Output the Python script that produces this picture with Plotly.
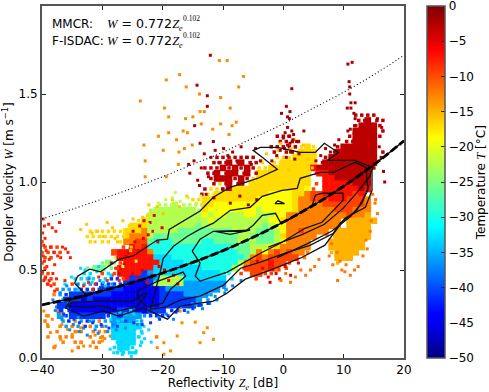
import plotly.graph_objects as go

# Temperature (deg C) of each letter used in the cloud map; capital letters mark thinly filled cells
temp_codes = dict(a=-3, b=-7, c=-9.5, d=-12.5, n=-15, e=-17, f=-19, g=-22.5, m=-26, h=-30, i=-33, j=-36, k=-41, l=-45)

# Cloud: one string per W value (top to bottom), 1 dB per character from -40 dB
map_top_w = 1.38
map_step_w = 0.03
map_rows = [
    "..... ..... ..... ..... ..... ..... ..... ..... ..... ..... ..AAA A....",
    "..... ..... ..... ..... ..... ..... ..... ..... ..... ..... ..AAa AA...",
    "..... ..... ..... ..... ..... ..... ..... ..... ..... ..... ..Aaa aA...",
    "..... ..... ..... ..... ..... ..... ..... ..... ..... ..... ..aaa aA...",
    "..... ..... ..... ..... ..... ..... ..... ....A AA... ..... .Aaaa aA...",
    "..... ..... ..... ..... ..... ..... ..... ....A AAA.. ..... AAaaa a....",
    "..... ..... ..... ..... ..... ..... ..... ...AA AAAEe E...A aaaaa a....",
    "..... ..... ..... ..... ..... ..... ..... ...A. AAEee e..Aa aaaaa aA...",
    "..... ..... ..... ..... ..... ....A AAAAA A...E EEeee e.Aaa aaaaa a....",
    "..... ..... ..... ..... ..... ...AA AaAaA AE.EE eeeee eAaaa aaaaa a....",
    "..... ..... ..... ..... ..... ..AAA aAaAa AEEee eeeee baaaa aaaaa A....",
    "..... ..... ..... ..... ..... ..AAa AaaAa Aeeee eeeee Bbbaa aaaaa .....",
    "..... ..... ..... ..... ..... ...Aa aaAaA Eeeee eeeee ..bba aaaaa .....",
    "..... ..... ..... ..... ..... ...AE AaAaE eeeee eeeee C.bbb bbaaa .....",
    "..... ..... ..... ..... ..... ..AEE Aaeee eeeee eeeef C.bbb bbbab .....",
    "..... ..... ..... ..... ..... .AEEe eeeee eeeff ffeed ccbbb bbcb. .....",
    "..... ..... ..... ..... ..... EEeee eeeee effff ffedd cccbb bcccd .....",
    "..... ..... ..... ....G GGgGG GEeef fffff fffff ffedd ddccc ccccd .....",
    "..... ..... ..... ...Gg ggggg gGeff fffff fgfff ffedd ddddc ccddd .....",
    "..... ..... ..... ..Egg ggggg ggfgf fgggf fgggf fdddd ddddd dcddn .....",
    "..... ..... ..... .Eegg ggggg gggfg ggggg gggff edddd ddddd .nnnn n....",
    "..... ..... ....E eeegg ggggg gmggg ggggg ggmgf fdddd ddddd .nnnn .....",
    "..... ...EE EEEEe eedgg gggmm mmmmm mmggg gmmmg fddcd ddd.n nnnnn .....",
    "..... ..EEE EEEEe dddgm mmmmm mmmmm mmmgg mmmmg edddd d..Nn nnnnn .....",
    "C.... ...E. EE.Ed dccmh hhmmm mmhhm mmmgm gmmmg fdddd ...nn nnnn. .....",
    "CCC.. ..... ...C. bcbhh hhhhh hhhhh hhmmm gggfe ddddd ...nn nnnn. .....",
    "CCCC. ..... ..cbb bbbdh hhhhh hhhhh hhhmm gdfdc dcddD ...Nn nnn.. .....",
    "CC... ..... ..Cbb bbbbi iihhh hhhhh hhhhm dcdcc cccD. ....n nn... .....",
    "C.... ..... MmMCb bbbbb iiiih hhhhh hhhgd cccbc cC... ....N ..... .....",
    "C.... ..MMm mMCbb bbbbi iiiii iihhh hhgCc cccbc C.... ..... ..... .....",
    "CC... ..II. CICbb bbkji iiiii iiiii hH.C. ccCC. ..... ..... ..... .....",
    "CC... IIII. IKKCb kkkkj ggggi iiiii iI... C.... ..... ..... ..... .....",
    ".CC.. CIIJK KKKKk lllkg ggggj jjjjj j.... ..... ..... ..... ..... .....",
    "..CJJ JKKKK kkkkl lllll kjjjj jjjjj J.... ..... ..... ..... ..... .....",
    "..DJK kkkkk kklll lllll kkkkj jjjJ. ..... ..... ..... ..... ..... .....",
    "...Jk kklkl lllll lllll kkkkk kjJ.. ..... ..... ..... ..... ..... .....",
    "...kk lllll lllll lllll kkkkk kK... ..... ..... ..... ..... ..... .....",
    "..DkK lllll lllkk kllkk kKK.. ..... ..... ..... ..... ..... ..... .....",
    ".D.jK kkkkk kKjkj jjJKK K.... ..... ..... ..... ..... ..... ..... .....",
    "D..JJ DJKJD JJjjj jJ... ..... ..... ..... ..... ..... ..... ..... .....",
    ".D.DJ DJDDJ D.jii ii... ..... ..... ..... ..... ..... ..... ..... .....",
    "..D.. DD.DD D.iii iI... ..... ..... ..... ..... ..... ..... ..... .....",
    ".D.DD D..D. D.iii iI..D ..... ..... ..... ..... ..... ..... ..... .....",
    "...D. DD.DD ..Iii iI... ..... ..... ..... ..... ..... ..... ..... .....",
    "..D.. .D..D ..Iii I.... ..... ..... ..... ..... ..... ..... ..... .....",
    "..... ..... ..III I.... ..... ..... ..... ..... ..... ..... ..... .....",
]

# Sparse points by temperature group
orange_z = [-23.7,-19.4,-17.2,-16.1,-13.9,-10.6,-9.3,-19.7,-19,-16.2,-15,-13.8,-13.1,-8.8,-10.4,-7.4,-6.6,-13.6,-16.6,-15.9,
            -20.7,-19,-17.7,-23.1,-19.9,-22.9,-22.9,-19.4,-17.4,-17.3,-15.1,-16.4,-11.7,-8.5,-9,-10.4,-7.8,
            -39.7,-39.1,-38.6,-38.3,-37.8,-36.9,-36.7,-35.8,-35,-33.6,-33.1,-32,-30.3,-30,-28.7,-35,-39.3,-36.7,
            -33.6,-20.9,-19.8,-18.7,-17.6,-19.8,-13.2,-14.6,-16.8,-17.1,-13.8,-11.6,-12.6,-29.6,-31.2,-34.2]
orange_w = [1.46,1.58,1.61,1.54,1.50,1.69,1.69,1.42,1.37,1.36,1.37,1.40,1.40,1.42,1.48,1.54,1.60,1.33,1.29,1.28,
            1.26,1.28,1.24,1.21,1.18,1.12,1.03,1.03,1.10,1.17,1.21,1.19,1.30,1.32,1.27,1.33,1.34,
            .267,.19,.144,.22,.068,.106,.19,.163,.134,.087,.068,.068,.116,.097,.125,.04,.24,.25,
            .172,.059,.087,.04,.125,.021,.144,.204,.2,.267,.087,.106,.172,.11,.13,.15]

red_orange_z = [-39.8,-39.6,-39.9,-39.5,-39.7,-39.3,-39.8,-39.6,-39.2,-39.9,-39.4,-39.7,-38.9,-38.3,-37.7,-37.1,-36.6,-36.1,-35.7,
                -38.6,-38,-37.4,-38.8,-37.9,-36.9,-35.3,-38.2,-38.8,-37.6,-39.1,-38.5,-37.9,-36.2,-33.1,-32.3,-31.2,-30.6,-29.2,
                -28.4,-27.8,-27.2,-26.5,-30,-31.6]
red_orange_w = [.79,.75,.71,.68,.64,.61,.58,.55,.52,.49,.46,.44,.76,.74,.72,.77,.63,.62,.6,
                .63,.6,.58,.56,.53,.57,.57,.48,.44,.45,.42,.41,.38,.44,.41,.43,.42,.46,.44,
                .47,.51,.44,.52,.38,.39]

red_z = [-28.5,-27.6,-26.9,-26.1,-25.4,-24.6,-24,-23.2,-22.4,-21.6,-20.8,-20.1,-27.2,-26.4,-25.7,-24.9,-23.8,-23.1,-22.1,-21.4,
         -25,-24.2,-23.4,-22.6,-21.8,-20.6,-19.7,-19,-18.2,-17.5,-1.2,.3,-2.5,-3.4,-.6,1.2,2.5,-4.3,-2.2]
red_w = [.54,.57,.51,.58,.62,.66,.61,.68,.7,.72,.66,.74,.48,.53,.6,.72,.75,.78,.77,.81,
         .48,.45,.5,.43,.47,.52,.5,.44,.47,.42,.48,.52,.46,.51,.45,.47,.54,.55,.43]

dark_red_z = [-12.1,-14.3,-12.6,-12.6,-14.7,-11.6,-13.8,-15.7,10.7,11.4,10.9,11,11,11.2,11.9,11.2,10.6,11.7,10.7,11.1,11.9,11.8,
              1.4,.5,1.1,-.3,.7,1,.7,1.4,.3,1.7,0,1.1,.7,2,-.5,-1.1,-1.9,3.4,.9,1.6,.2,2.2,1.2,.5,1.9,2.6,
              -15.5,-14.8,-14.2,-13.6,-13.1,-12.4,-12,-11.3,-10.7,-9.9,-9.2,-8.4,-7.7,-7,-6.1,-5.3,-4.6,-3.8,-13.9,-12.8,-11.5,-10.1,-8.8,-7.2,-5.8,-4.4,
              5.4,6.2,7,7.8,8.5,9.2,16.2,16.6,15.9,16.3,15.6,16.8]
dark_red_w = [1.72,1.55,1.49,1.43,1.32,1.23,1.22,1.10,1.67,1.68,1.57,1.54,1.50,1.45,1.45,1.42,1.42,1.39,1.29,1.30,1.36,1.32,
              1.53,1.43,1.40,1.39,1.37,1.36,1.31,1.29,1.28,1.27,1.25,1.22,1.21,1.20,1.18,1.15,1.12,1.29,1.26,1.24,1.19,1.23,1.17,1.14,1.13,1.16,
              1.05,1.12,1.01,1.08,1.16,1.03,1.14,1.18,1.11,1.19,1.15,1.17,1.12,1.2,1.14,1.1,1.19,1.12,.98,.93,.91,.96,.88,.92,.87,.9,
              1.12,1.15,1.19,1.17,1.21,1.24,1.14,1.06,1.2,1.31,1.36,1.0]

gold_z = [-3.6,-2.8,-1.7,-.9,.2,1.3,2.4,3.3,4.1,4.8,-.4,1.9,3,-2.2,.9,-33.6,-32.6,-31.7,-30.8,-29.9,-29.2,-28.3,-27.5,-26.6,-25.8,-24.9,-31.2,-27.9,-25.3,
          -23.3,-21.8,-20.9,-19.9,-25.2,-22.3,-18.4,-17.2,-16]
gold_w = [1.12,1.16,1.09,1.18,1.14,1.19,1.16,1.21,1.13,1.08,1.22,1.24,1.18,1.06,1.07,.73,.76,.71,.72,.69,.77,.74,.66,.78,.71,.79,.66,.68,.61,
          .8,.83,.86,.82,.63,.87,.9,.86,.92]

orange2_z = [7.2,8,8.9,9.4,10.2,15.6,15.2,14.8,14.4,13.7,13.2,12.4,11.8,11.1,10.4,9.7,9,14.6,15.3,13.9,8.2,7.6,5.9,5.2,4.5,3.7,2.9,2,1.2,.4,-.4,-1.2]
orange2_w = [.7,.65,.6,.55,.49,.82,.88,.93,.72,.67,.58,.52,.5,.47,.53,.5,.44,.78,.9,.62,.53,.58,.56,.52,.5,.47,.5,.46,.43,.48,.44,.5]

green_z = [-22.4,-21.6,-20.7,-19.5,-18.4,-17.1,-15.8,-14.4,-13.2,-12.3,-11.1,-21.2,-17.9,-13.7,-24.4,-26.6,-27.9,-29.3]
green_w = [.76,.83,.88,.9,.91,.89,.91,.88,.86,.89,.84,.72,.94,.92,.55,.52,.57,.53]

cyan_z = [-28.7,-28.1,-27.4,-26.7,-25.9,-25.2,-24.4,-23.7,-23,-22.3,-21.9,-28.4,-27.8,-26.9,-26.2,-25.5,-24.6,-23.9,-23.1,-27.4,-26.6,-25.8,-25,-24.2,-23.4,-26.9,-26.1,-25.3,-28.6,-27.1,-24.8,
          -37,-36.2,-35.1,-34,-32.9,-31.7,-30.6,-29.5,-28.6,-33.6,-32.2,-30.9,-29.8]
cyan_w = [.05,.03,.09,.02,.06,.01,.04,.07,.11,.16,.09,.12,.17,.04,.12,.08,.16,.12,.18,.21,.22,.19,.03,.21,.14,.19,.25,.27,.22,.26,.25,
          .37,.42,.46,.39,.5,.43,.52,.41,.47,.51,.46,.49,.43]

sky_z = [-38.2,-37.6,-37,-36.3,-35.6,-34.8,-34,-33.1,-32.1,-31.2,-30.1,-29.1,-28.2,-37.8,-36.7,-35.4,-33.8,-32.5,-30.7,-29.4,-27.7,
         -20.6,-19.4,-18.2,-17,-15.8,-14.6,-13.4,-12.2,-11,-9.7,-8.4,-7,-13.9,-12.6,-11.3,-9.9,-16.4,-15.1,-35.9,-34.1,-32.2,-30.4,-28.4,-26.2,-24.2]
sky_w = [.33,.29,.37,.24,.31,.19,.23,.17,.21,.16,.18,.15,.19,.27,.22,.16,.15,.13,.14,.18,.16,
         .23,.25,.22,.29,.26,.3,.28,.31,.33,.37,.41,.44,.32,.36,.35,.4,.27,.31,.41,.42,.45,.44,.42,.17,.19]

blue_z = [-37.3,-36.4,-35.6,-34.7,-33.8,-32.8,-31.6,-30.2,-28.9,-27.5,-26.1,-24.8,-23.4,-22,-20.5,-19.1,-17.8,-16.4,-15,-13.6,-12.5]
blue_w = [.29,.25,.21,.22,.2,.18,.2,.19,.17,.18,.21,.2,.19,.2,.22,.24,.26,.27,.28,.3,.31]

# Fitted curves
fit_z = [-40, -35, -30, -25, -20, -15, -10, -5, 0, 5, 10, 15, 20]
fit_w = [.302, .339, .381, .429, .483, .543, .610, .686, .772, .868, .976, 1.098, 1.234]
upper_w = [.79, .845, .904, .965, 1.03, 1.10, 1.17, 1.25, 1.33, 1.42, 1.51, 1.61, 1.72]

# Contours
c1_z = [-34.6,-34.1,-32.1,-30.3,-27.3,-24.9,-20.9,-19.2,-18.9,-15.9,-13.8,-11.6,-8.8,-4.3,-1,-3.5,-5,-3.8,-1,2.8,5.3,6.8,9.1,7.3,11.9,14.7,14.7,13.6,10.2,6.9,2.8,-2.2,-6.3,-9.3,-11.6,-17.1,-19.2,-23.2,-27.3,-29.8,-33.1,-36.1,-35.3,-32.5,-34.1,-34.6]
c1_w = [.425,.465,.505,.49,.56,.58,.67,.675,.73,.79,.835,.913,.97,1.02,1.072,1.14,1.18,1.197,1.197,1.168,1.168,1.22,1.168,1.123,1.123,1.083,.953,.856,.794,.641,.567,.499,.448,.369,.323,.295,.221,.284,.238,.267,.238,.284,.329,.352,.408,.425]
c2_z = [-20.4,-19.9,-18.2,-15.9,-13.8,-11.6,-8.8,-5.5,-3.5,-.2,2.3,2.8,6.1,8.3,11.9,13.7,14,12.2,9.4,8.3,4.5,.3,-3.8,-7.1,-9.9,-13.8,-17.1,-19.6,-22,-20.4]
c2_w = [.488,.567,.635,.692,.732,.766,.839,.856,.919,.953,.964,1.021,1.055,1.055,1.112,1.083,.953,.839,.766,.709,.641,.596,.545,.51,.414,.352,.329,.289,.278,.488]
c3_z = [-15.1,-13.8,-11.6,-6.3,-5,-3.5,-1.3,-.5,.8,3.3,4.8,5.3,6.4,9.9,9.9,8.3,6.4,3.6,-.5,-3.5,-6.3,-9.3,-13.8,-14.6,-13.8,-15.1]
c3_w = [.607,.675,.72,.72,.754,.811,.822,.771,.783,.839,.868,.925,.936,.936,.896,.839,.771,.737,.652,.601,.545,.488,.437,.465,.539,.607]
c4_z = [-24.2,-21.2,-16.6,-16.2,-18.7,-20,-22.5,-24,-24.2]
c4_w = [.38,.431,.488,.465,.391,.312,.289,.335,.38]
c5_z = [-35.8,-35,-30.3,-24.9,-23.2,-22.5,-24.2,-27.3,-29.8,-32.8,-35.8]
c5_w = [.295,.318,.323,.323,.363,.369,.295,.267,.295,.289,.295]
c6_z = [-11.3,-5.5,-8.8,-11.3]
c6_w = [.72,.726,.703,.72]
c7_z = [-1.4,.2,-.9,-1.4]
c7_w = [.877,.877,.893,.877]
c8_z = [-2.5,3,6.8,9.9,12.2,14.3,14.9]
c8_w = [.63,.7,.76,.85,.94,1.03,1.09]
c9_z = [-1,4,8,11,13,14.2]
c9_w = [.57,.65,.72,.8,.88,.98]

tick_x = [-40, -30, -20, -10, 0, 10, 20]
tick_y = [0.0, 0.5, 1.0, 1.5, 2.0]
tick_t = [0, -5, -10, -15, -20, -25, -30, -35, -40, -45, -50]

jet = [[0, "#00007f"], [0.11, "#0000ff"], [0.125, "#0000ff"], [0.375, "#00ffff"], [0.625, "#ffff00"],
       [0.875, "#ff0000"], [1, "#7f0000"]]

fig = go.Figure()

dense_z, dense_w, dense_t, thin_z, thin_w, thin_t = [], [], [], [], [], []
for r, row in enumerate(map_rows):
    w = round(map_top_w - map_step_w * r, 3)
    for i, ch in enumerate(row.replace(" ", "")):
        if ch == ".":
            continue
        if ch.islower():
            dense_z.append(-40 + i); dense_w.append(w); dense_t.append(temp_codes[ch])
        else:
            thin_z.append(-40 + i + 0.5 * (r % 2)); thin_w.append(w); thin_t.append(temp_codes[ch.lower()])

fig.add_trace(go.Scatter(
    x=dense_z, y=dense_w, mode="markers", showlegend=False,
    marker=dict(symbol="square", size=6.6, color=dense_t, colorscale=jet, cmin=-50, cmax=0, line_width=0,
                colorbar=dict(tickvals=tick_t, ticks="inside", ticklen=4, tickcolor="#222", thickness=17.5,
                              len=1, lenmode="fraction", x=426.5 / 489, xref="container", xanchor="left",
                              y=0.5, yanchor="middle", xpad=0, ypad=0, outlinecolor="#555", outlinewidth=1.5,
                              ticklabeloverflow="allow",
                              tickfont=dict(size=12, color="black"))),
))
fig.add_trace(go.Scatter(x=thin_z, y=thin_w, mode="markers", showlegend=False,
                         marker=dict(symbol="square", size=3.5, color=thin_t, colorscale=jet, cmin=-50, cmax=0, line_width=0)))

sparse = [(orange_z, orange_w, -13), (red_orange_z, red_orange_w, -8), (red_z, red_w, -5),
          (gold_z, gold_w, -16), (orange2_z, orange2_w, -12), (green_z, green_w, -22),
          (cyan_z, cyan_w, -33), (sky_z, sky_w, -37), (blue_z, blue_w, -41), (dark_red_z, dark_red_w, -2)]
for zs, ws, t in sparse:
    fig.add_trace(go.Scatter(x=zs, y=ws, mode="markers", showlegend=False,
                             marker=dict(symbol="square", size=3, color=[t] * len(zs), colorscale=jet,
                                         cmin=-50, cmax=0, line_width=0)))

for zs, ws in [(c1_z, c1_w), (c2_z, c2_w), (c3_z, c3_w), (c4_z, c4_w), (c5_z, c5_w), (c6_z, c6_w),
               (c7_z, c7_w), (c8_z, c8_w), (c9_z, c9_w)]:
    fig.add_trace(go.Scatter(x=zs, y=ws, mode="lines", showlegend=False, line=dict(color="#111", width=1.3)))

fig.add_trace(go.Scatter(x=fit_z, y=upper_w, mode="lines", showlegend=False, line=dict(color="black", width=1.1, dash="1px,2.5px", shape="spline")))
fig.add_trace(go.Scatter(x=fit_z, y=fit_w, mode="lines", showlegend=False, line=dict(color="black", width=1.3, shape="spline")))
fig.add_trace(go.Scatter(x=fit_z, y=fit_w, mode="lines", showlegend=False, line=dict(color="black", width=2.8, dash="8px,3px", shape="spline")))

serif = "font-family:'Liberation Serif'"
notes = [(-38.7, 1.90, "MMCR:", 12), (-38.7, 1.804, "F-ISDAC:", 12)]
for y in (1.90, 1.804):
    notes += [(-29.6, y, f'<span style="{serif}"><i>W</i></span> = 0.772<span style="{serif}"><i>Z</i></span>', 12.6),
              (-16.9, y + 0.03, f'<span style="{serif}">0.102</span>', 7.5),
              (-17.7, y - 0.028, f'<span style="{serif}"><i>e</i></span>', 8)]
for x, y, text, size in notes:
    fig.add_annotation(x=x, y=y, text=text, xanchor="left", yanchor="middle", showarrow=False,
                       font=dict(size=size, color="black"))

fig.add_annotation(x=1.2124, y=0.499, xref="paper", yref="paper", xanchor="center", yanchor="middle", textangle=-90, showarrow=False,
                   text=f'Temperature <span style="{serif}"><i>T</i></span> [°C]', font=dict(size=12, color="black"))

axis = dict(showline=True, mirror="ticks", linecolor="#555", linewidth=2, ticks="inside", ticklen=4, tickcolor="#222",
            showgrid=False, zeroline=False, tickfont=dict(size=12, color="black"))
fig.update_xaxes(range=[-40, 20], tickvals=tick_x, **axis,
                 title=dict(text=f'Reflectivity <span style="{serif}"><i>Z</i><sub><i>e</i></sub></span> [dB]', font=dict(size=12, color="black"), standoff=2))
fig.update_yaxes(range=[0, 2], tickvals=tick_y, tickformat=".1f", **axis,
                 title=dict(text=f'Doppler Velocity <span style="{serif}"><i>W</i></span> [m s<sup>−1</sup>]', font=dict(size=12, color="black"), standoff=3))
fig.update_layout(width=489, height=392, autosize=False, margin=dict(l=41.5, r=85, t=5.5, b=34, autoexpand=False), paper_bgcolor="white",
                  plot_bgcolor="white", font=dict(family="DejaVu Sans"))

fig.write_html("out.html", config={"displayModeBar": False}, post_script="document.body.style.margin='0';")
